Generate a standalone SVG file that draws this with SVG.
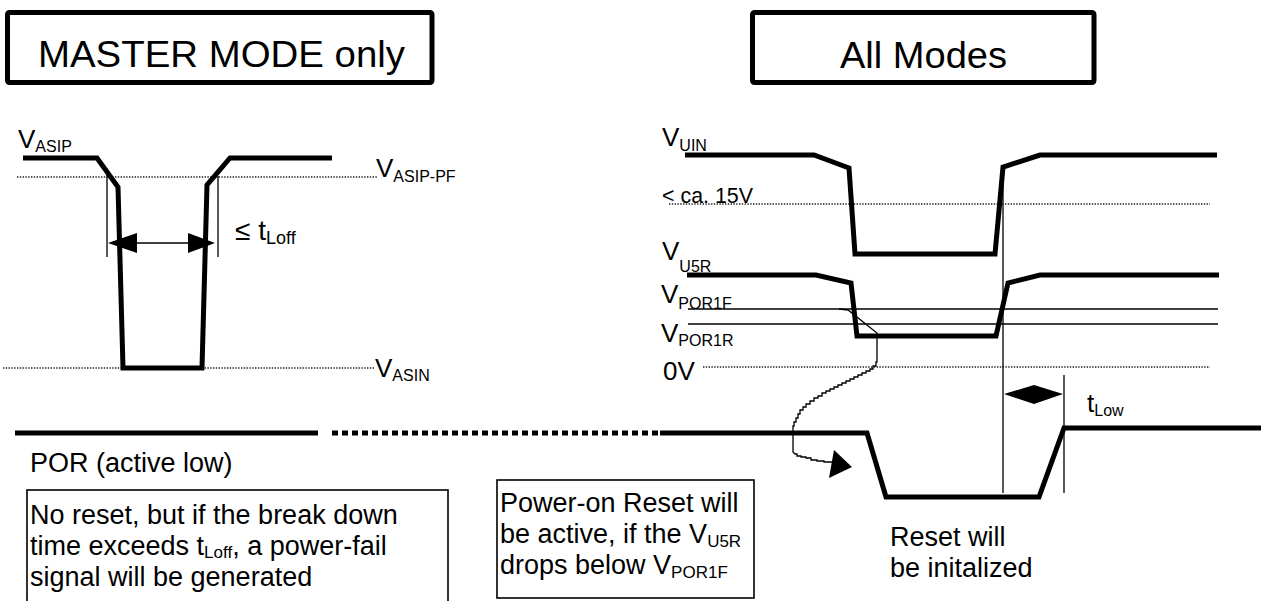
<svg xmlns="http://www.w3.org/2000/svg" width="1261" height="601" viewBox="0 0 1261 601">
<style>
text{font-family:"Liberation Sans",Arial,sans-serif;fill:#000}
.hdr{font-size:36px}
.lbl{font-size:26px}
.sub{font-size:16px}
.body{font-size:27px}
.bsub{font-size:17px}
.wave{fill:none;stroke:#000;stroke-width:5;stroke-linejoin:miter;stroke-miterlimit:6}
.thin{fill:none;stroke:#000;stroke-width:1.3}
.dot{fill:none;stroke:#222;stroke-width:1.3;stroke-dasharray:1.4 1.4}
.box{fill:#fff;stroke:#000;stroke-width:1.6}
.hbox{fill:#fff;stroke:#000;stroke-width:5}
.head{fill:#000;stroke:none}
</style>
<rect width="1261" height="601" fill="#fff"/>

<g id="header-master">
<rect class="hbox" x="7.5" y="12.5" width="424.5" height="70" rx="2"/>
<text class="hdr" x="38" y="67" textLength="367" lengthAdjust="spacingAndGlyphs">MASTER MODE only</text>
</g>
<g id="header-all">
<rect class="hbox" x="752.5" y="12.5" width="341.5" height="70" rx="2"/>
<text class="hdr" x="840" y="68" textLength="167" lengthAdjust="spacingAndGlyphs">All Modes</text>
</g>

<g id="levels">
<line class="dot" x1="17" y1="177" x2="377" y2="177"/>
<line class="dot" x1="3" y1="368" x2="375" y2="368"/>
<line class="dot" x1="669" y1="204" x2="1210" y2="204"/>
<line class="dot" x1="703" y1="367" x2="1210" y2="367"/>
<line class="thin" x1="688" y1="309" x2="1218" y2="309"/>
<line class="thin" x1="688" y1="324" x2="1218" y2="324"/>
</g>

<g id="waveforms">
<polyline id="wave-asip" class="wave" points="23,158 97,158 118,187 123,368 202,368 207,185 230,158 332,158"/>
<polyline id="wave-uin" class="wave" points="685,155 814,155 849,168 855,254 995,254 1003,167 1040,155 1217,155"/>
<polyline id="wave-u5r" class="wave" points="687,275 816,275 851,283 857,336 996,336 1008,283 1040,275 1219,275"/>
<line id="por-left" class="wave" x1="15" y1="433" x2="318" y2="433"/>
<line id="por-dashed" class="wave" x1="332" y1="433" x2="660" y2="433" style="stroke-dasharray:6 4"/>
<polyline id="wave-por" class="wave" points="660,433 867,433 886,497 1039,497 1064,428 1261,428"/>
</g>

<g id="connectors">
<line class="thin" x1="107" y1="175" x2="107" y2="257"/>
<line class="thin" x1="218" y1="176" x2="218" y2="257"/>
<line class="thin" x1="125" y1="243" x2="200" y2="243"/>
<polygon class="head" points="108,243 137,233 137,253"/>
<polygon class="head" points="215,243 188,233 188,253"/>
<line class="thin" x1="1003" y1="166" x2="1003" y2="493"/>
<line class="thin" x1="1064" y1="375" x2="1064" y2="493"/>
<polygon class="head" points="1004,394 1034,385 1034,404"/>
<polygon class="head" points="1063,394 1034,385 1034,404"/>
<path class="thin" d="M839,309 L848,310 L877,333 L877,362 H876 V366 H873 V369 H870 V371 H866 V373 H862 V375 H858 V377 H854 V379 H850 V381 H846 V383 H842 V385 H838 V387 H834 V389 H830 V391 H826 V393 H822 V396 H818 V398 H814 V401 H810 V404 H806 V407 H803 V410 H800 V414 H798 V418 H796 V422 H794 V426 H793 V452 L795,454 H797 V456 H801 V457 H806 V458 H811 V460 H817 V461 H824 V462 H832"/>
<polygon class="head" points="834,450 852,467 829,478"/>
</g>

<g id="labels">
<text class="lbl" x="18" y="148">V<tspan class="sub" dy="4">ASIP</tspan></text>
<text class="lbl" x="376" y="177">V<tspan class="sub" dy="5">ASIP-PF</tspan></text>
<text class="lbl" x="375" y="377">V<tspan class="sub" dy="4">ASIN</tspan></text>
<text x="235" y="240" style="font-size:28px">≤ t<tspan style="font-size:18px" dy="4">Loff</tspan></text>
<text class="lbl" x="662" y="146">V<tspan class="sub" dy="5">UIN</tspan></text>
<text x="662" y="203" style="font-size:22px" textLength="91" lengthAdjust="spacingAndGlyphs">&lt; ca. 15V</text>
<text class="lbl" x="662" y="260">V<tspan class="sub" dy="12">U5R</tspan></text>
<text class="lbl" x="661" y="303">V<tspan class="sub" dy="6">POR1F</tspan></text>
<text class="lbl" x="661" y="342">V<tspan class="sub" dy="4">POR1R</tspan></text>
<text class="lbl" x="663" y="380">0V</text>
<text class="lbl" x="1087" y="412">t<tspan class="sub" dy="4">Low</tspan></text>
<text class="body" x="30" y="472">POR (active low)</text>
</g>

<g id="note-master">
<rect class="box" x="27" y="490" width="421" height="125"/>
<text class="body" x="30" y="524">No reset, but if the break down</text>
<text class="body" x="30" y="555">time exceeds t<tspan class="bsub" dy="3">Loff</tspan><tspan dy="-3">, a power-fail</tspan></text>
<text class="body" x="30" y="586">signal will be generated</text>
</g>

<g id="note-por">
<rect class="box" x="497" y="480" width="257" height="118"/>
<text class="body" x="500" y="512">Power-on Reset will</text>
<text class="body" x="500" y="543">be active, if the V<tspan class="bsub" dy="4">U5R</tspan></text>
<text class="body" x="500" y="574">drops below V<tspan class="bsub" dy="4">POR1F</tspan></text>
</g>

<g id="note-reset">
<text class="body" x="890" y="546">Reset will</text>
<text class="body" x="890" y="577">be initalized</text>
</g>
</svg>
